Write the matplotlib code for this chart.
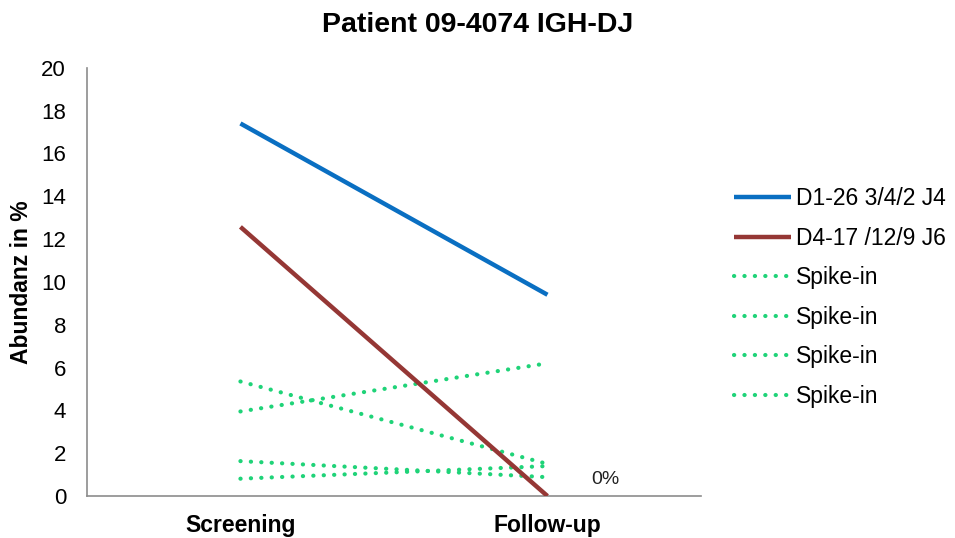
import matplotlib
matplotlib.use("Agg")
import matplotlib.pyplot as plt

plt.rcParams['font.family'] = ['Liberation Sans', 'DejaVu Sans']

categories = ["Screening", "Follow-up"]
series_names = ["D1-26 3/4/2 J4", "D4-17 /12/9 J6", "Spike-in", "Spike-in", "Spike-in", "Spike-in"]
d1_26 = [17.4, 9.4]
d4_17 = [12.57, 0.0]
spike_a = [5.35, 1.5]
spike_b = [3.95, 6.2]
spike_c = [1.63, 0.88]
spike_d = [0.81, 1.4]
yticks = [0, 2, 4, 6, 8, 10, 12, 14, 16, 18, 20]

fig = plt.figure(figsize=(9.55, 5.38), dpi=100)
ax = fig.add_axes([0.091, 0.078, 0.643, 0.796])

x = list(range(len(categories)))
blue = '#0A6FC2'
red = '#953735'
green = '#1FD378'

ax.plot(x, d1_26, color=blue, lw=3.2, solid_capstyle='butt', label=series_names[0], zorder=3)
ax.plot(x, d4_17, color=red, lw=3.2, solid_capstyle='butt', label=series_names[1], zorder=3)
for vals, name in zip([spike_a, spike_b, spike_c, spike_d], series_names[2:]):
    ax.plot(x, vals, color=green, lw=3.0, linestyle=(0, (0.05, 2.45)),
            dash_capstyle='round', label=name, zorder=2)

ax.set_xlim(-0.5, 1.5)
ax.set_ylim(0, 20)
ax.set_yticks(yticks)
ax.set_yticklabels([str(v) for v in yticks], fontsize=16)
ax.set_xticks(x)
ax.set_xticklabels(categories, fontsize=16.5, fontweight='bold')
ax.tick_params(axis='both', length=0, colors='#000000')
ax.tick_params(axis='y', pad=15)
ax.tick_params(axis='x', pad=13)

for s in ['top', 'right']:
    ax.spines[s].set_visible(False)
for s in ['left', 'bottom']:
    ax.spines[s].set_color('#8C8C8C')
    ax.spines[s].set_linewidth(1.2)

ax.set_ylabel("Abundanz in %", fontsize=16.5, fontweight='bold', labelpad=6)
fig.text(0.5, 0.953, "Patient 09-4074 IGH-DJ", ha='center', va='center',
         fontsize=20.5, fontweight='bold')

ax.text(1.19, 0.75, "0%", fontsize=14, ha='center', va='center', color='#222222')

leg = fig.legend(loc='center left', bbox_to_anchor=(0.769, 0.447), frameon=False,
                 fontsize=16.5, handlelength=2.45, handletextpad=0.25,
                 labelspacing=0.72, borderaxespad=0, borderpad=0)

fig.savefig("out.png", dpi=100)
